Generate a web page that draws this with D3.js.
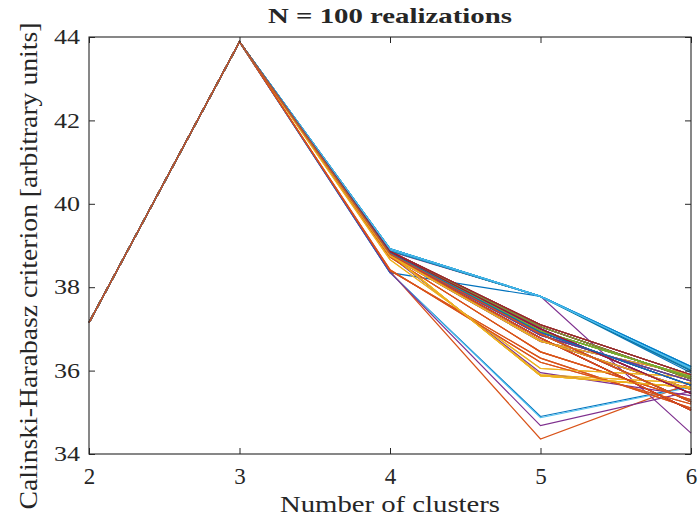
<!DOCTYPE html>
<html>
<head>
<meta charset="utf-8">
<script src="https://cdn.jsdelivr.net/npm/d3@7"></script>
<style>
  html, body { margin: 0; padding: 0; background: #fff; }
  svg { display: block; }
  text { font-family: "Liberation Serif", "Times New Roman", serif; fill: #262626; }
</style>
</head>
<body>
<svg id="chart" width="699" height="518"></svg>
<script>
// Number of clusters evaluated
const clusters = [2, 3, 4, 5, 6];
// CH value shared by every realization at k = 2 and k = 3
const chAt2 = 37.15;
const chAt3 = 43.88;
// Per-realization CH values at k = 4, 5, 6 (100 realizations)
const chAt4 = [
  38.35, 38.38, 38.80, 38.86, 38.92, 38.35, 38.86,
  38.35, 38.40, 38.78, 38.36, 38.82, 38.90, 38.84,
  38.84, 38.42, 38.66, 38.75, 38.82, 38.92, 38.78,
  38.88, 38.72, 38.80, 38.75, 38.82, 38.92, 38.86,
  38.82, 38.78, 38.76, 38.80, 38.92, 38.90, 38.84,
  38.80, 38.72, 38.80, 38.76, 38.82, 38.92, 38.84,
  38.88, 38.80, 38.75, 38.82, 38.84, 38.92, 38.86,
  38.84, 38.40, 38.78, 38.80, 38.82, 38.90, 38.78,
  38.82, 38.76, 38.80, 38.75, 38.88, 38.92, 38.80,
  38.92, 38.78, 38.80, 38.84, 38.82, 38.90, 38.84,
  38.80, 38.72, 38.66, 38.76, 38.86, 38.92, 38.84,
  38.88, 38.80, 38.75, 38.82, 38.82, 38.92, 38.78,
  38.80, 38.42, 38.80, 38.84, 38.84, 38.90, 38.86,
  38.92, 38.78, 38.76, 38.80, 38.82, 38.92, 38.84,
  38.82, 38.80
];
const chAt5 = [
  34.90, 34.36, 35.88, 37.78, 37.78, 34.87, 37.10,
  37.78, 36.30, 35.90, 34.68, 36.95, 37.78, 37.05,
  37.00, 36.20, 36.05, 36.70, 36.92, 37.78, 36.78,
  37.78, 36.45, 35.88, 35.95, 36.95, 37.78, 37.10,
  36.92, 36.78, 36.72, 36.88, 37.78, 37.78, 37.05,
  36.85, 36.45, 35.88, 36.72, 36.95, 37.78, 37.00,
  37.78, 36.88, 36.70, 36.92, 37.05, 37.78, 37.10,
  37.00, 36.30, 35.90, 36.85, 36.95, 37.78, 36.78,
  36.92, 36.72, 35.88, 36.70, 37.78, 37.78, 36.88,
  37.78, 36.78, 36.85, 37.05, 36.95, 37.78, 37.00,
  36.88, 36.45, 36.05, 36.72, 37.10, 37.78, 37.05,
  37.78, 36.88, 36.70, 36.92, 36.95, 37.78, 36.78,
  36.85, 36.20, 35.88, 37.00, 37.05, 37.78, 37.10,
  37.78, 36.78, 36.72, 36.85, 36.95, 37.78, 37.00,
  36.92, 36.88
];
const chAt6 = [
  35.62, 35.70, 35.60, 34.50, 36.05, 35.60, 35.90,
  35.95, 35.10, 35.70, 35.50, 35.85, 36.09, 35.80,
  35.45, 35.20, 35.85, 35.90, 35.65, 36.10, 35.05,
  36.00, 35.30, 35.60, 35.40, 35.85, 36.05, 35.90,
  35.65, 35.05, 35.55, 35.25, 36.05, 36.09, 35.80,
  35.75, 35.30, 35.60, 35.55, 35.85, 36.10, 35.45,
  36.00, 35.25, 35.90, 35.65, 35.80, 36.05, 35.90,
  35.45, 35.10, 35.70, 35.75, 35.85, 36.09, 35.05,
  35.65, 35.55, 35.60, 35.90, 36.00, 36.10, 35.25,
  36.05, 35.05, 35.75, 35.80, 35.85, 36.09, 35.45,
  35.25, 35.30, 35.85, 35.55, 35.90, 36.10, 35.80,
  36.00, 35.25, 35.90, 35.65, 35.85, 36.05, 35.05,
  35.75, 35.20, 35.60, 35.45, 35.80, 36.09, 35.90,
  36.10, 35.05, 35.55, 35.75, 35.85, 36.05, 35.45,
  35.65, 35.25
];
// Axis ticks
const xTicks = [2, 3, 4, 5, 6];
const yTicks = [34, 36, 38, 40, 42, 44];
// Default line colour order, cycled over the realizations
const palette = ["#0072BD", "#D95319", "#EDB120", "#7E2F8E", "#77AC30", "#4DBEEE", "#A2142F"];

const realizations = chAt4.map((v4, i) => [chAt2, chAt3, v4, chAt5[i], chAt6[i]]);

const svg = d3.select("#chart");
const plotLeft = 89, plotRight = 691, plotTop = 37, plotBottom = 454;

const x = d3.scaleLinear().domain([2, 6]).range([plotLeft, plotRight]);
const y = d3.scaleLinear().domain([34, 44]).range([plotBottom, plotTop]);

const line = d3.line()
  .x((d, i) => x(clusters[i]))
  .y(d => y(d));

svg.append("g")
  .selectAll("path")
  .data(realizations)
  .join("path")
  .attr("d", line)
  .attr("fill", "none")
  .attr("stroke", (d, i) => palette[i % palette.length])
  .attr("stroke-width", 1.2)
  .attr("stroke-linejoin", "miter");

// Axes with inward ticks on all four sides (boxed axes)
const axisColor = "#262626";
const tickLen = 6;

const bottomAxis = svg.append("g").attr("transform", `translate(0,${plotBottom})`)
  .call(d3.axisBottom(x).tickValues(xTicks).tickSize(-tickLen).tickPadding(14).tickFormat(d3.format("d")));
const topAxis = svg.append("g").attr("transform", `translate(0,${plotTop})`)
  .call(d3.axisTop(x).tickValues(xTicks).tickSize(-tickLen).tickFormat(""));
const leftAxis = svg.append("g").attr("transform", `translate(${plotLeft},0)`)
  .call(d3.axisLeft(y).tickValues(yTicks).tickSize(-tickLen).tickPadding(9).tickFormat(d3.format("d")));
const rightAxis = svg.append("g").attr("transform", `translate(${plotRight},0)`)
  .call(d3.axisRight(y).tickValues(yTicks).tickSize(-tickLen).tickFormat(""));

[bottomAxis, topAxis, leftAxis, rightAxis].forEach(g => {
  g.select(".domain").remove();
  g.selectAll(".tick line").attr("stroke", axisColor).attr("stroke-width", 1);
  g.selectAll("text").attr("fill", axisColor)
    .style("font-family", '"Liberation Serif", "Times New Roman", serif');
});

// Box outline
svg.append("rect")
  .attr("x", plotLeft).attr("y", plotTop)
  .attr("width", plotRight - plotLeft).attr("height", plotBottom - plotTop)
  .attr("fill", "none").attr("stroke", axisColor).attr("stroke-width", 1.1);

bottomAxis.selectAll("text").style("font-size", "23px").attr("dy", "0.71em");
leftAxis.selectAll("text").style("font-size", "21px")
  .attr("textLength", 26).attr("lengthAdjust", "spacingAndGlyphs");

// Title
svg.append("text")
  .attr("x", (plotLeft + plotRight) / 2).attr("y", 23)
  .attr("text-anchor", "middle")
  .style("font-size", "21px").style("font-weight", "bold")
  .attr("fill", "#000")
  .attr("textLength", 244).attr("lengthAdjust", "spacingAndGlyphs")
  .text("N = 100 realizations");

// Axis labels
svg.append("text")
  .attr("x", (plotLeft + plotRight) / 2).attr("y", 512)
  .attr("text-anchor", "middle")
  .style("font-size", "24px")
  .attr("textLength", 220).attr("lengthAdjust", "spacingAndGlyphs")
  .text("Number of clusters");

svg.append("text")
  .attr("transform", "translate(37,266) rotate(-90)")
  .attr("text-anchor", "middle")
  .style("font-size", "25px")
  .attr("textLength", 487).attr("lengthAdjust", "spacingAndGlyphs")
  .text("Calinski-Harabasz criterion [arbitrary units]");
</script>
</body>
</html>
